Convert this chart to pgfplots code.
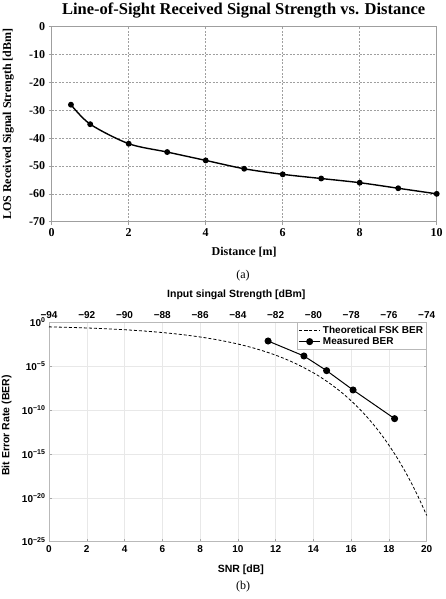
\documentclass[border=0pt]{standalone}
\usepackage{fontspec}
\setmainfont{Liberation Serif}
\newfontfamily\arial{Liberation Sans}
\usepackage{pgfplots}
\pgfplotsset{compat=1.18}
\newcommand\ex[1]{10\textsuperscript{\fontsize{7}{8}\selectfont #1}}
\begin{document}
\begin{tikzpicture}
\useasboundingbox (0,0) rectangle (445pt,599pt);
% ---------------- (a) ----------------
\begin{axis}[
  at={(51.7pt,377.3pt)}, anchor=south west, scale only axis,
  width=385pt, height=195pt,
  xmin=0, xmax=10, ymin=-70, ymax=0,
  xtick={0,2,...,10}, ytick={-70,-60,...,0},
  grid=major,
  grid style={gray!75, line width=0.5pt, dash pattern=on 2pt off 1.5pt},
  axis line style={gray!75, line width=0.7pt},
  tick align=outside, major tick length=3pt,
  tick style={gray!75, line width=0.6pt},
  xtick pos=bottom, ytick pos=left,
  /pgf/number format/assume math mode=true,
  ticklabel style={font=\fontsize{12}{14}\selectfont\bfseries},
  xlabel={Distance [m]},
  ylabel={LOS Received Signal Strength [dBm]},
  label style={font=\fontsize{12}{14}\selectfont\bfseries},
  xlabel style={at={(axis description cs:0.5,-0.155)}, anchor=center},
  ylabel style={at={(axis description cs:-0.113,0.5)}, anchor=center},
  clip=false,
]
\addplot[black, line width=1.4pt, smooth, mark=*, mark size=2.2pt] coordinates {
  (0.5,-28) (1,-35) (2,-42) (3,-45) (4,-48) (5,-51) (6,-53) (7,-54.5) (8,-56) (9,-58) (10,-60)
};
\node[font=\fontsize{16.5}{18}\selectfont\bfseries, anchor=center, inner sep=0pt] at (axis description cs:0.4985,1.083) {Line-of-Sight Received Signal Strength vs. Distance};
\node[font=\fontsize{12}{14}\selectfont] at (axis description cs:0.497,-0.278) {(a)};
\end{axis}
% ---------------- (b) secondary top axis ----------------
\begin{axis}[
  at={(49pt,57.3pt)}, anchor=south west, scale only axis,
  width=377.7pt, height=219.4pt,
  xmin=-94, xmax=-74, ymin=0, ymax=1,
  axis x line*=top, hide y axis,
  xtick={-94,-92,...,-74},
  xticklabels={−94,−92,−90,−88,−86,−84,−82,−80,−78,−76,−74},
  tick align=inside, major tick length=3pt,
  axis line style={gray!55, line width=0.6pt},
  tick style={gray!70, line width=0.5pt},
  ticklabel style={font=\arial\fontsize{10}{12}\selectfont\bfseries},
  xlabel={Input singal Strength [dBm]},
  xlabel style={font=\arial\fontsize{10.5}{12}\selectfont\bfseries, at={(axis description cs:0.496,1.124)}, anchor=center},
]
\addplot[draw=none, forget plot] coordinates {(-84,0.5)};
\end{axis}
% ---------------- (b) main axis ----------------
\begin{axis}[
  at={(49pt,57.3pt)}, anchor=south west, scale only axis,
  width=377.7pt, height=219.4pt,
  xmin=0, xmax=20, ymode=log, ymin=1e-25, ymax=1,
  xtick={0,2,...,20},
  ytick={1e-25,1e-20,1e-15,1e-10,1e-5,1},
  yticklabels={\ex{−25},\ex{−20},\ex{−15},\ex{−10},\ex{−5},\ex{0}},
  yminorticks=false,
  grid=major, grid style={gray!18, line width=0.5pt},
  axis line style={gray!55, line width=0.6pt},
  tick align=inside, major tick length=3pt,
  tick style={gray!70, line width=0.5pt},
  xtick pos=bottom, ytick pos=both,
  /pgf/number format/assume math mode=true,
  ticklabel style={font=\arial\fontsize{10}{12}\selectfont\bfseries},
  xlabel={SNR [dB]},
  ylabel={Bit Error Rate (BER)},
  label style={font=\arial\fontsize{10.5}{12}\selectfont\bfseries},
  xlabel style={at={(axis description cs:0.508,-0.129)}, anchor=center},
  ylabel style={at={(axis description cs:-0.112,0.53)}, anchor=center},
  legend style={at={(1,1)}, anchor=north east, draw=gray!55, fill=white,
    font=\arial\fontsize{10}{11}\selectfont\bfseries, inner sep=1.5pt, row sep=-1.5pt},
  legend cell align=left,
  legend image code/.code={\draw[mark repeat=2,mark phase=2,#1] plot coordinates {(0cm,0cm) (0.38cm,0cm) (0.76cm,0cm)};},
  clip=false,
]
\addplot[black, line width=0.8pt, dash pattern=on 3pt off 2pt, smooth] coordinates {
  (0,3.03e-1) (1,2.66e-1) (2,2.26e-1) (3,1.84e-1) (4,1.42e-1) (5,1.03e-1)
  (6,6.83e-2) (7,4.08e-2) (8,2.13e-2) (9,9.42e-3) (10,3.37e-3) (11,9.23e-4)
  (12,1.81e-4) (13,2.32e-5) (14,1.76e-6) (14.5,3.79e-7) (15,6.79e-8)
  (15.5,9.87e-9) (16,1.13e-9) (16.5,9.99e-11) (17,6.54e-12) (17.5,3.08e-13)
  (18,9.95e-15) (18.5,2.12e-16) (19,2.82e-18) (19.5,2.22e-20) (20,9.65e-23)
};
\addlegendentry{Theoretical FSK BER}
\addplot[black, line width=1pt, mark=*, mark size=3pt] coordinates {
  (11.6,7.4e-3) (13.5,1.45e-4) (14.7,3.1e-6) (16.1,1.95e-8) (18.3,1.05e-11)
};
\addlegendentry{Measured BER}
\node[font=\fontsize{12}{14}\selectfont] at (axis description cs:0.514,-0.206) {(b)};
\end{axis}
\end{tikzpicture}
\end{document}
